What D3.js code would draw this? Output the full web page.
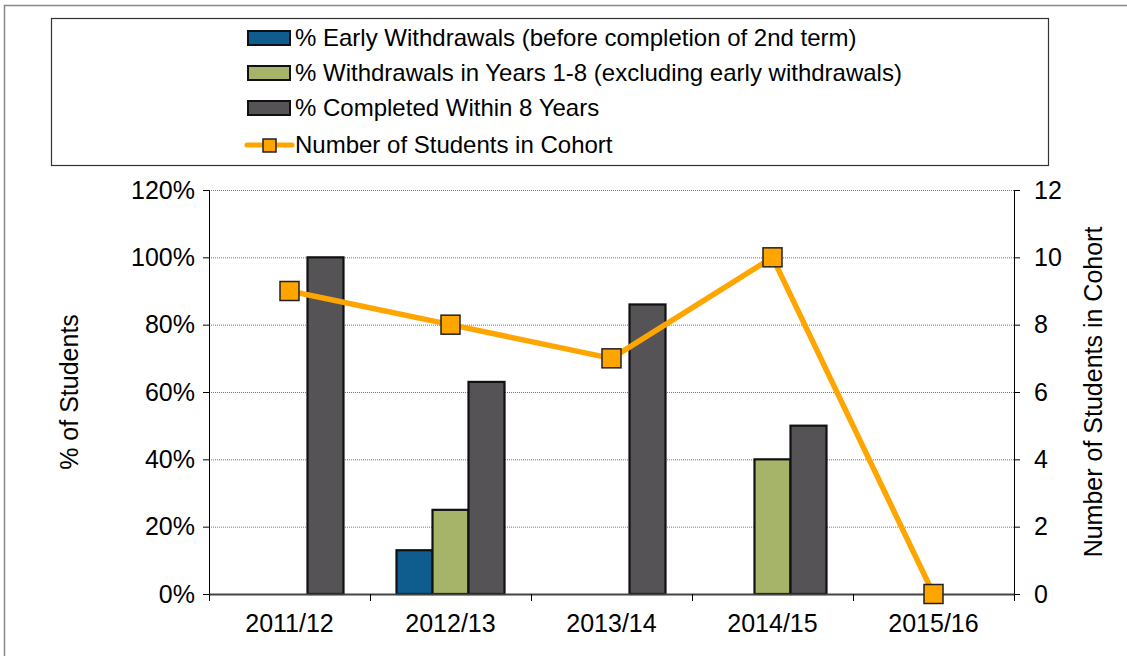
<!DOCTYPE html>
<html>
<head>
<meta charset="utf-8">
<script src="https://cdn.jsdelivr.net/npm/d3@7"></script>
<style>
  body { margin: 0; background: #fff; }
  svg text { font-family: "Liberation Sans", Arial, sans-serif; fill: #000; }
</style>
</head>
<body>
<svg id="chart" width="1127" height="656"></svg>
<script>
var years = ['2011/12', '2012/13', '2013/14', '2014/15', '2015/16'];
var earlyWithdrawals = [0, 13, 0, 0, 0];
var laterWithdrawals = [0, 25, 0, 40, 0];
var completed = [100, 63, 86, 50, 0];
var cohortSize = [9, 8, 7, 10, 0];
var seriesNames = ['% Early Withdrawals (before completion of 2nd term)',
                   '% Withdrawals in Years 1-8 (excluding early withdrawals)',
                   '% Completed Within 8 Years'];
var lineName = 'Number of Students in Cohort';
var pctTicks = [0, 20, 40, 60, 80, 100, 120];
var countTicks = [0, 2, 4, 6, 8, 10, 12];

var colours = ['#0f5c8e', '#a6b46a', '#555355'];
var lineColour = '#ffa500';

var svg = d3.select('#chart');
var margin = {top: 190, right: 113, bottom: 62, left: 209};
var width = 1127 - margin.left - margin.right,
    height = 656 - margin.top - margin.bottom;

// outer frame
svg.append('path')
    .attr('d', 'M4.5,656 L4.5,5.5 L1127,5.5')
    .attr('fill', 'none').attr('stroke', '#888').attr('stroke-width', 1.5);

var g = svg.append('g').attr('transform', 'translate(' + margin.left + ',' + margin.top + ')');

var x = d3.scaleBand().domain(years).range([0, width]);
var yLeft = d3.scaleLinear().domain([0, 120]).range([height, 0]);
var yRight = d3.scaleLinear().domain([0, 12]).range([height, 0]);
var barW = 36;
var xInner = d3.scaleBand().domain([0, 1, 2]).range([-1.5 * barW, 1.5 * barW]);

// gridlines
g.selectAll('.grid').data(pctTicks.slice(1)).enter().append('line')
    .attr('x1', 0).attr('x2', width)
    .attr('y1', function(d) { return yLeft(d) + 0.5; })
    .attr('y2', function(d) { return yLeft(d) + 0.5; })
    .attr('stroke', '#777').attr('stroke-dasharray', '1,1');

// bars
var series = [earlyWithdrawals, laterWithdrawals, completed];
series.forEach(function(vals, s) {
    vals.forEach(function(v, i) {
        if (v <= 0) return;
        g.append('rect')
            .attr('x', x(years[i]) + x.bandwidth() / 2 + xInner(s))
            .attr('y', yLeft(v))
            .attr('width', xInner.bandwidth())
            .attr('height', yLeft(0) - yLeft(v))
            .attr('fill', colours[s])
            .attr('stroke', '#111').attr('stroke-width', 2.2);
    });
});

// left axis
var leftAxis = g.append('g')
    .call(d3.axisLeft(yLeft).tickValues(pctTicks).tickSize(6).tickPadding(8)
        .tickFormat(function(d) { return d + '%'; }));
leftAxis.selectAll('text').style('font-size', '25px');
leftAxis.select('.domain').attr('stroke', '#000');

// right axis
var rightAxis = g.append('g').attr('transform', 'translate(' + width + ',0)')
    .call(d3.axisRight(yRight).tickValues(countTicks).tickSize(6).tickPadding(14));
rightAxis.selectAll('text').style('font-size', '25px');

// bottom axis
var bottomAxis = g.append('g').attr('transform', 'translate(0,' + height + ')')
    .call(d3.axisBottom(x).tickSize(0).tickPadding(20));
bottomAxis.selectAll('text').style('font-size', '25px');
bottomAxis.select('.domain').attr('stroke', '#444').attr('stroke-width', 2);
g.selectAll('.xtick').data(d3.range(years.length + 1)).enter().append('line')
    .attr('x1', function(d) { return d * x.step() + 0.5; })
    .attr('x2', function(d) { return d * x.step() + 0.5; })
    .attr('y1', height).attr('y2', height + 7)
    .attr('stroke', '#000');

// axis titles
g.append('text')
    .attr('transform', 'translate(' + (-131) + ',' + (height / 2) + ') rotate(-90)')
    .attr('text-anchor', 'middle').style('font-size', '25px')
    .text('% of Students');
g.append('text')
    .attr('transform', 'translate(' + (width + 88) + ',' + (height / 2) + ') rotate(-90)')
    .attr('text-anchor', 'middle').style('font-size', '25px')
    .text(lineName);

// cohort line
var line = d3.line()
    .x(function(d, i) { return x(years[i]) + x.bandwidth() / 2; })
    .y(function(d) { return yRight(d); });
g.append('path').datum(cohortSize)
    .attr('d', line)
    .attr('fill', 'none').attr('stroke', lineColour).attr('stroke-width', 5.5)
    .attr('stroke-linejoin', 'round');
g.selectAll('.marker').data(cohortSize).enter().append('rect')
    .attr('x', function(d, i) { return x(years[i]) + x.bandwidth() / 2 - 9.5; })
    .attr('y', function(d) { return yRight(d) - 9.5; })
    .attr('width', 19).attr('height', 19)
    .attr('fill', lineColour).attr('stroke', '#222').attr('stroke-width', 1.5);

// legend
svg.append('rect')
    .attr('x', 51.5).attr('y', 18.5).attr('width', 997).attr('height', 147)
    .attr('fill', 'none').attr('stroke', '#333').attr('stroke-width', 1.2);
var rowY = [38, 73, 108, 145];
var lg = svg.append('g');
seriesNames.forEach(function(name, s) {
    lg.append('rect')
        .attr('x', 248).attr('y', rowY[s] - 7).attr('width', 42).attr('height', 14)
        .attr('fill', colours[s]).attr('stroke', '#111').attr('stroke-width', 2);
    lg.append('text').attr('x', 295).attr('y', rowY[s]).attr('dy', '0.35em')
        .style('font-size', '24px').text(name);
});
lg.append('line')
    .attr('x1', 247).attr('x2', 292).attr('y1', rowY[3]).attr('y2', rowY[3])
    .attr('stroke', lineColour).attr('stroke-width', 5).attr('stroke-linecap', 'round');
lg.append('rect')
    .attr('x', 263).attr('y', rowY[3] - 6).attr('width', 13).attr('height', 13)
    .attr('fill', lineColour).attr('stroke', '#222').attr('stroke-width', 1.5);
lg.append('text').attr('x', 295).attr('y', rowY[3]).attr('dy', '0.35em')
    .style('font-size', '24px').text(lineName);
</script>
</body>
</html>
